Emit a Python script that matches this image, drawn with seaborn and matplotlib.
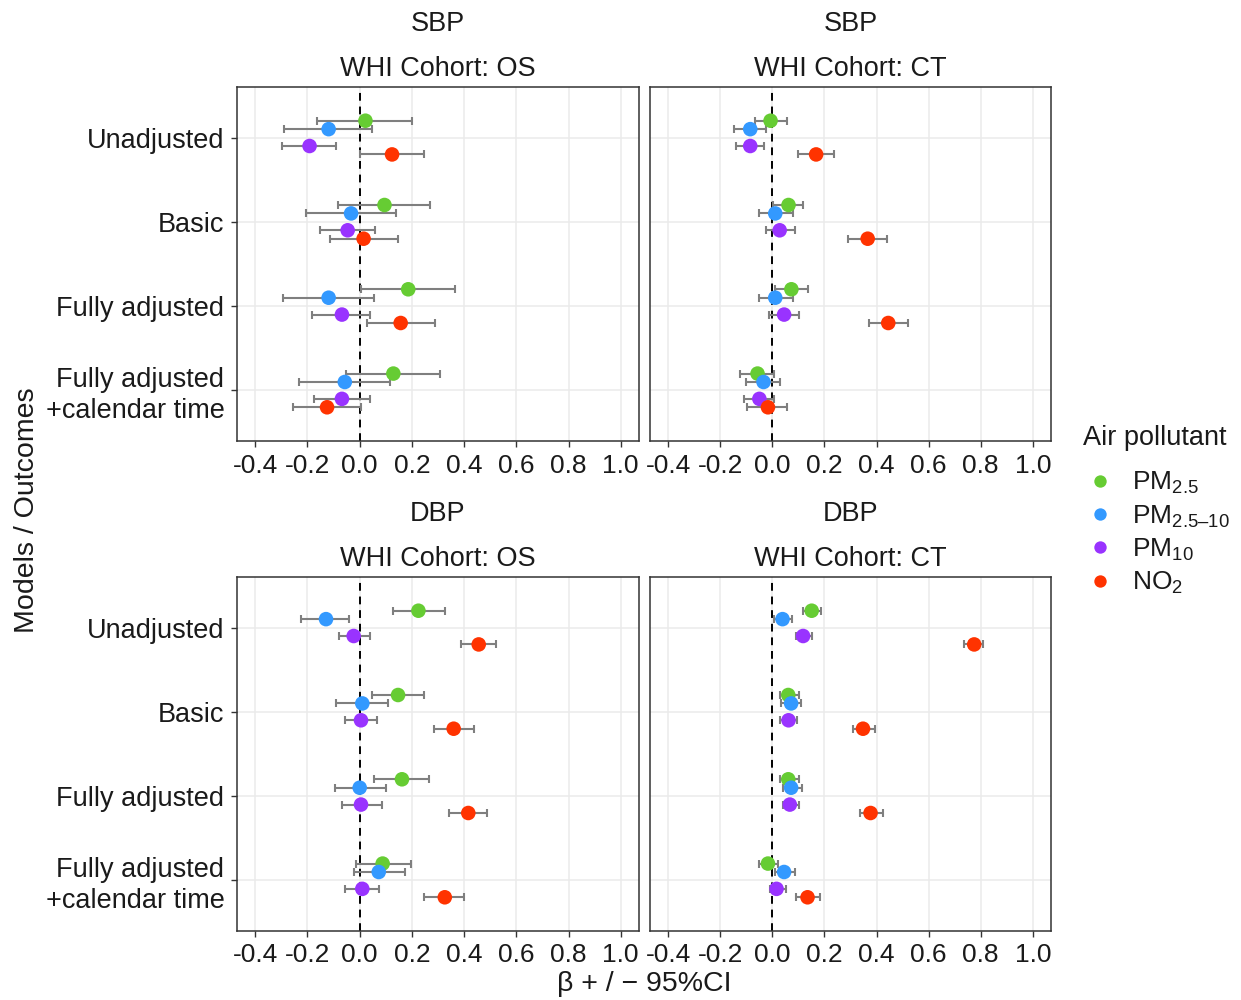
import numpy as np
import pandas as pd
import matplotlib
matplotlib.use("Agg")
import matplotlib.pyplot as plt
import seaborn as sns

# ---- data -------------------------------------------------------------
models = ["Unadjusted", "Basic", "Fully adjusted", "Fully adjusted\n+calendar time"]
pollutants = ["PM2.5", "PM2.5-10", "PM10", "NO2"]
pollutant_labels = ["PM$_{\\mathrm{2.5}}$", "PM$_{\\mathrm{2.5\u201310}}$",
                    "PM$_{\\mathrm{10}}$", "NO$_{\\mathrm{2}}$"]
palette = ["#66CC33", "#3399FF", "#9933FF", "#FF3300"]
x_ticks = [-0.4, -0.2, 0.0, 0.2, 0.4, 0.6, 0.8, 1.0]

# SBP, WHI Cohort: OS  (estimate, lower, upper) per model
sbp_os_pm25 = ([0.022, 0.095, 0.186, 0.129], [-0.164, -0.084, 0.006, -0.051], [0.202, 0.271, 0.367, 0.309])
sbp_os_pmc = ([-0.119, -0.033, -0.119, -0.057], [-0.289, -0.207, -0.294, -0.231], [0.046, 0.139, 0.056, 0.117])
sbp_os_pm10 = ([-0.192, -0.046, -0.068, -0.068], [-0.299, -0.153, -0.181, -0.175], [-0.090, 0.060, 0.038, 0.038])
sbp_os_no2 = ([0.124, 0.015, 0.157, -0.125], [0.003, -0.114, 0.027, -0.254], [0.246, 0.147, 0.287, 0.006])

# SBP, WHI Cohort: CT
sbp_ct_pm25 = ([-0.007, 0.062, 0.073, -0.057], [-0.067, 0.001, 0.011, -0.123], [0.057, 0.119, 0.136, 0.005])
sbp_ct_pmc = ([-0.085, 0.011, 0.011, -0.034], [-0.147, -0.050, -0.050, -0.103], [-0.023, 0.080, 0.080, 0.029])
sbp_ct_pm10 = ([-0.085, 0.028, 0.045, -0.050], [-0.141, -0.023, -0.012, -0.108], [-0.034, 0.086, 0.103, 0.005])
sbp_ct_no2 = ([0.168, 0.366, 0.445, -0.017], [0.100, 0.290, 0.371, -0.096], [0.237, 0.440, 0.519, 0.057])

# DBP, WHI Cohort: OS
dbp_os_pm25 = ([0.225, 0.147, 0.162, 0.088], [0.129, 0.046, 0.055, -0.013], [0.327, 0.248, 0.266, 0.198])
dbp_os_pmc = ([-0.129, 0.010, 0.000, 0.073], [-0.226, -0.091, -0.096, -0.023], [-0.040, 0.107, 0.102, 0.175])
dbp_os_pm10 = ([-0.023, 0.005, 0.005, 0.010], [-0.079, -0.057, -0.068, -0.057], [0.040, 0.066, 0.084, 0.073])
dbp_os_no2 = ([0.456, 0.360, 0.416, 0.326], [0.387, 0.286, 0.342, 0.246], [0.524, 0.439, 0.489, 0.400])

# DBP, WHI Cohort: CT
dbp_ct_pm25 = ([0.151, 0.061, 0.061, -0.017], [0.117, 0.028, 0.028, -0.050], [0.186, 0.102, 0.102, 0.022])
dbp_ct_pmc = ([0.039, 0.072, 0.072, 0.045], [0.005, 0.034, 0.039, 0.010], [0.075, 0.108, 0.113, 0.085])
dbp_ct_pm10 = ([0.118, 0.062, 0.067, 0.016], [0.090, 0.030, 0.039, -0.011], [0.154, 0.096, 0.103, 0.051])
dbp_ct_no2 = ([0.775, 0.348, 0.377, 0.135], [0.737, 0.308, 0.337, 0.089], [0.810, 0.394, 0.424, 0.181])

panels = [
    ("SBP", "WHI Cohort: OS", [sbp_os_pm25, sbp_os_pmc, sbp_os_pm10, sbp_os_no2]),
    ("SBP", "WHI Cohort: CT", [sbp_ct_pm25, sbp_ct_pmc, sbp_ct_pm10, sbp_ct_no2]),
    ("DBP", "WHI Cohort: OS", [dbp_os_pm25, dbp_os_pmc, dbp_os_pm10, dbp_os_no2]),
    ("DBP", "WHI Cohort: CT", [dbp_ct_pm25, dbp_ct_pmc, dbp_ct_pm10, dbp_ct_no2]),
]

# vertical dodge of the four pollutants inside each model row
dodge = [-0.2, -0.1, 0.1, 0.2]

# ---- style ------------------------------------------------------------
sns.set_theme(style="white")
plt.rcParams["font.family"] = ["Liberation Sans", "DejaVu Sans"]
plt.rcParams["mathtext.fontset"] = "custom"
plt.rcParams["mathtext.rm"] = "Liberation Sans"
plt.rcParams["mathtext.it"] = "Liberation Sans:italic"
plt.rcParams["axes.unicode_minus"] = False

W, H = 1241, 1000
fig = plt.figure(figsize=(W / 100, H / 100), dpi=100)

# panel boxes in pixels: (left, top, right, bottom)
boxes = [(237, 87, 639, 441), (650, 87, 1051, 441),
         (237, 577, 639, 931), (650, 577, 1051, 931)]

FS = 19
text_color = "#1A1A1A"
handles = None

for i, ((outcome, cohort, series), (l, t, r, b)) in enumerate(zip(panels, boxes)):
    ax = fig.add_axes([l / W, 1 - b / H, (r - l) / W, (b - t) / H])
    rows = []
    for p, (est, lo, hi) in enumerate(series):
        for m in range(len(models)):
            rows.append({"model": m, "pollutant": pollutants[p],
                         "beta": est[m], "lo": lo[m], "hi": hi[m],
                         "y": m + dodge[p]})
    df = pd.DataFrame(rows)

    ax.grid(True, color="#EBEBEB", linewidth=1.1, zorder=0)
    ax.set_axisbelow(True)
    ax.axvline(0, color="black", linestyle=(0, (4, 3)), linewidth=1.4, zorder=2)
    ax.errorbar(df["beta"], df["y"], xerr=[df["beta"] - df["lo"], df["hi"] - df["beta"]],
                fmt="none", ecolor="#7F7F7F", elinewidth=1.5, capsize=2.6,
                capthick=1.5, zorder=3)
    sns.scatterplot(data=df, x="beta", y="y", hue="pollutant", hue_order=pollutants,
                    palette=palette, s=110, linewidth=0, edgecolor="none",
                    ax=ax, zorder=4, legend=(i == 0))
    if i == 0:
        handles, _ = ax.get_legend_handles_labels()
        ax.get_legend().remove()

    ax.set_xlim(-0.47, 1.07)
    ax.set_ylim(3.6, -0.6)
    ax.set_xticks(x_ticks)
    ax.set_xticklabels([f"{v:.1f}" for v in x_ticks])
    ax.set_yticks(range(len(models)))
    ax.set_xlabel("")
    ax.set_ylabel("")
    ax.tick_params(axis="x", length=4, width=1, color="#333333", pad=5,
                   labelsize=FS, labelcolor=text_color, bottom=True)
    if l < 300:
        ax.set_yticklabels(models, multialignment="right", linespacing=1.25)
        ax.tick_params(axis="y", length=4, width=1, color="#333333", pad=5,
                       labelsize=FS + 0.5, labelcolor=text_color, left=True)
    else:
        ax.set_yticklabels([])
        ax.tick_params(axis="y", length=0)
    for sp in ax.spines.values():
        sp.set_color("#333333")
        sp.set_linewidth(1.1)

    cx = (l + r) / 2 / W
    fig.text(cx, 1 - (t - 63) / H, outcome, ha="center", va="center",
             fontsize=FS + 0.5, color=text_color)
    fig.text(cx, 1 - (t - 18) / H, cohort, ha="center", va="center",
             fontsize=FS + 0.5, color=text_color)

# axis titles
fig.text(27 / W, 1 - 510 / H, "Models / Outcomes", rotation=90, ha="center",
         va="center", fontsize=FS + 1.5, color=text_color)
fig.text(644 / W, 1 - 984 / H, "\u03b2 + / \u2212 95%CI", ha="center", va="center",
         fontsize=FS + 1.5, color=text_color)

# legend: title drawn on its own, entries below it
fig.text(1083 / W, 1 - 438 / H, "Air pollutant", ha="left", va="center",
         fontsize=FS + 0.5, color=text_color)
leg = fig.legend(handles, pollutant_labels,
                 loc="upper left", bbox_to_anchor=(1084 / W, 1 - 470 / H),
                 frameon=False, fontsize=FS, borderaxespad=0, borderpad=0,
                 handlelength=1.2, handletextpad=0.6, labelspacing=0.27,
                 markerscale=0.85)
for txt in leg.get_texts():
    txt.set_color(text_color)

fig.savefig("out.png", dpi=100)
